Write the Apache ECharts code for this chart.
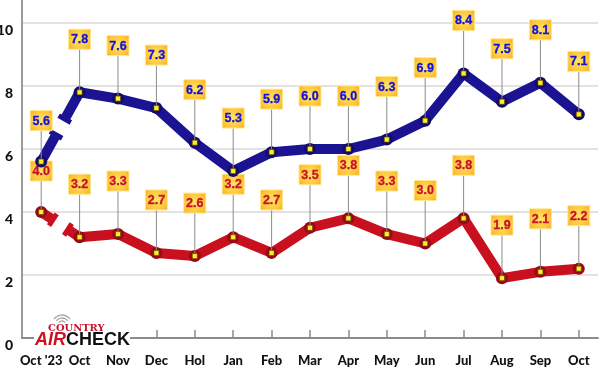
<!DOCTYPE html>
<html>
<head>
<meta charset="utf-8">
<script src="https://cdn.jsdelivr.net/npm/echarts@6/dist/echarts.min.js"></script>
<style>html,body{margin:0;padding:0;background:#fff}#c{width:600px;height:368px}</style>
</head>
<body>
<div id="c"></div>
<script>
const categories = ["Oct '23","Oct","Nov","Dec","Hol","Jan","Feb","Mar","Apr","May","Jun","Jul","Aug","Sep","Oct"];
const blueValues = [5.6,7.8,7.6,7.3,6.2,5.3,5.9,6.0,6.0,6.3,6.9,8.4,7.5,8.1,7.1];
const redValues  = [4.0,3.2,3.3,2.7,2.6,3.2,2.7,3.5,3.8,3.3,3.0,3.8,1.9,2.1,2.2];
const yMin = 0, yMax = 10, yStep = 2;

const BLUE = '#1b1391', BLUE_DARK = '#120c6a', BLUE_TEXT = '#1212dc';
const RED = '#c8101e', RED_DARK = '#960a14', RED_TEXT = '#c8102e';
const LABEL_FONT = "'Liberation Sans', Arial, sans-serif";
const AXIS_FONT = "Lato, 'Liberation Sans', sans-serif";

const chart = echarts.init(document.getElementById('c'), null, {renderer: 'canvas'});

function lineSeries(values, color) {
  return {
    type: 'line', z: 2,
    data: values.map((v, i) => i === 0 ? '-' : v),
    symbol: 'none',
    lineStyle: {color: color, width: 10, cap: 'round', join: 'round'},
    silent: true, animation: false
  };
}

function breakSeries(values, color) {
  return {
    type: 'custom', z: 2, silent: true, animation: false,
    data: [[0, values[0], values[1]]],
    renderItem: function (params, api) {
      const a = api.coord([0, api.value(1)]);
      const b = api.coord([1, api.value(2)]);
      const dx = b[0] - a[0], dy = b[1] - a[1];
      const L = Math.sqrt(dx * dx + dy * dy);
      const ux = dx / L, uy = dy / L;
      const px = -uy, py = ux;
      const mx = (a[0] + b[0]) / 2, my = (a[1] + b[1]) / 2;
      const g = 9, c = 7;
      const e1 = [mx - ux * g, my - uy * g];
      const e2 = [mx + ux * g, my + uy * g];
      const st = {stroke: color, lineWidth: 10, lineCap: 'butt', fill: null};
      const cs = {stroke: color, lineWidth: 5, lineCap: 'butt', fill: null};
      return {type: 'group', children: [
        {type: 'line', shape: {x1: a[0], y1: a[1], x2: e1[0] - ux * 2, y2: e1[1] - uy * 2}, style: st},
        {type: 'circle', shape: {cx: a[0], cy: a[1], r: 5}, style: {fill: color}},
        {type: 'line', shape: {x1: e1[0] + px * c, y1: e1[1] + py * c, x2: e1[0] - px * c, y2: e1[1] - py * c}, style: cs},
        {type: 'line', shape: {x1: e2[0] + ux * 2, y1: e2[1] + uy * 2, x2: b[0], y2: b[1]}, style: st},
        {type: 'line', shape: {x1: e2[0] + px * c, y1: e2[1] + py * c, x2: e2[0] - px * c, y2: e2[1] - py * c}, style: cs}
      ]};
    }
  };
}

function labelSeries(values, dark, textColor) {
  return {
    type: 'custom', z: 3, silent: true, animation: false,
    data: values.map((v, i) => [i, v]),
    renderItem: function (params, api) {
      const i = api.value(0), v = api.value(1);
      const p = api.coord([i, v]);
      const off = i === 0 ? 41 : 53;
      const bw = 22, bh = 20;
      const cx = p[0], cy = p[1] - off;
      return {type: 'group', children: [
        {type: 'circle', shape: {cx: p[0], cy: p[1], r: 6}, style: {fill: dark}},
        {type: 'line', shape: {x1: cx, y1: cy + bh / 2, x2: p[0], y2: p[1] - 2}, style: {stroke: '#8a8a8a', lineWidth: 1}},
        {type: 'rect', shape: {x: cx - bw / 2, y: cy - bh / 2, width: bw, height: bh},
          style: {
            fill: new echarts.graphic.RadialGradient(0.5, 0.5, 0.75, [
              {offset: 0, color: '#ffe566'}, {offset: 0.6, color: '#ffc83a'}, {offset: 1, color: '#f7a21e'}
            ]),
            stroke: '#ffe98a', lineWidth: 1
          }},
        {type: 'text', style: {x: cx, y: cy + 0.5, text: v.toFixed(1), fill: textColor,
          font: "bold 12.5px " + LABEL_FONT, align: 'center', verticalAlign: 'middle',
          stroke: textColor, lineWidth: 0.3}},
        {type: 'rect', shape: {x: p[0] - 2.5, y: p[1] - 2.5, width: 5, height: 5},
          style: {fill: '#ffee22', stroke: '#5a4a00', lineWidth: 0.6}}
      ]};
    }
  };
}

const option = {
  backgroundColor: '#ffffff',
  animation: false,
  grid: {left: 22, right: 2, top: 23, bottom: 30, containLabel: false, outerBoundsMode: 'none'},
  xAxis: {
    type: 'category', data: categories, boundaryGap: true,
    axisLine: {lineStyle: {color: '#8c8c8c', width: 2}},
    axisTick: {show: true, inside: true, length: 8, alignWithLabel: true, lineStyle: {color: '#8c8c8c', width: 1.5}},
    axisLabel: {color: '#111', fontFamily: AXIS_FONT, fontWeight: 900, fontSize: 13, margin: 16, interval: 0},
    splitLine: {show: false}
  },
  yAxis: {
    type: 'value', min: yMin, max: yMax, interval: yStep,
    axisLine: {show: true, lineStyle: {color: '#9a9a9a', width: 2}},
    axisTick: {show: false},
    axisLabel: {color: '#111', fontFamily: AXIS_FONT, fontWeight: 900, fontSize: 14, margin: 9, verticalAlign: 'top', lineHeight: 14},
    splitLine: {show: true, lineStyle: {color: '#d9d9d9', width: 1.5}}
  },
  graphic: [
    {type: 'line', z: 1, silent: true, shape: {x1: 22, y1: 0, x2: 22, y2: 24}, style: {stroke: '#9a9a9a', lineWidth: 2}},
    {type: 'rect', z: 50, silent: true, shape: {x: 34, y: 312, width: 96, height: 36}, style: {fill: '#ffffff'}},
    {type: 'arc', z: 51, silent: true, shape: {cx: 62, cy: 325, r: 4, startAngle: -Math.PI * 0.8, endAngle: -Math.PI * 0.2, clockwise: true}, style: {stroke: '#a8a8a8', lineWidth: 1.3, fill: null}},
    {type: 'arc', z: 51, silent: true, shape: {cx: 62, cy: 325, r: 7, startAngle: -Math.PI * 0.8, endAngle: -Math.PI * 0.2, clockwise: true}, style: {stroke: '#a8a8a8', lineWidth: 1.3, fill: null}},
    {type: 'arc', z: 51, silent: true, shape: {cx: 62, cy: 325, r: 10, startAngle: -Math.PI * 0.8, endAngle: -Math.PI * 0.2, clockwise: true}, style: {stroke: '#a8a8a8', lineWidth: 1.3, fill: null}},
    {type: 'text', z: 51, silent: true, x: 48, y: 328.5, scaleX: 1.1, style: {x: 0, y: 0, text: 'COUNTRY', fill: RED_TEXT,
      font: "bold 9px 'DejaVu Serif', serif", verticalAlign: 'middle'}},
    {type: 'text', z: 51, silent: true, x: 35, y: 340.5, style: {x: 0, y: 0, verticalAlign: 'middle',
      text: '{a|AIR}{b|CHECK}',
      rich: {
        a: {fill: '#d0101e', font: "italic bold 18px 'Liberation Sans', Arial, sans-serif"},
        b: {fill: '#111111', font: "bold 18px 'Liberation Sans', Arial, sans-serif"}
      }}}
  ],
  series: [
    lineSeries(redValues, RED),
    breakSeries(redValues, RED),
    lineSeries(blueValues, BLUE),
    breakSeries(blueValues, BLUE),
    labelSeries(redValues, RED_DARK, RED_TEXT),
    labelSeries(blueValues, BLUE_DARK, BLUE_TEXT)
  ]
};
chart.setOption(option);
</script>
</body>
</html>
